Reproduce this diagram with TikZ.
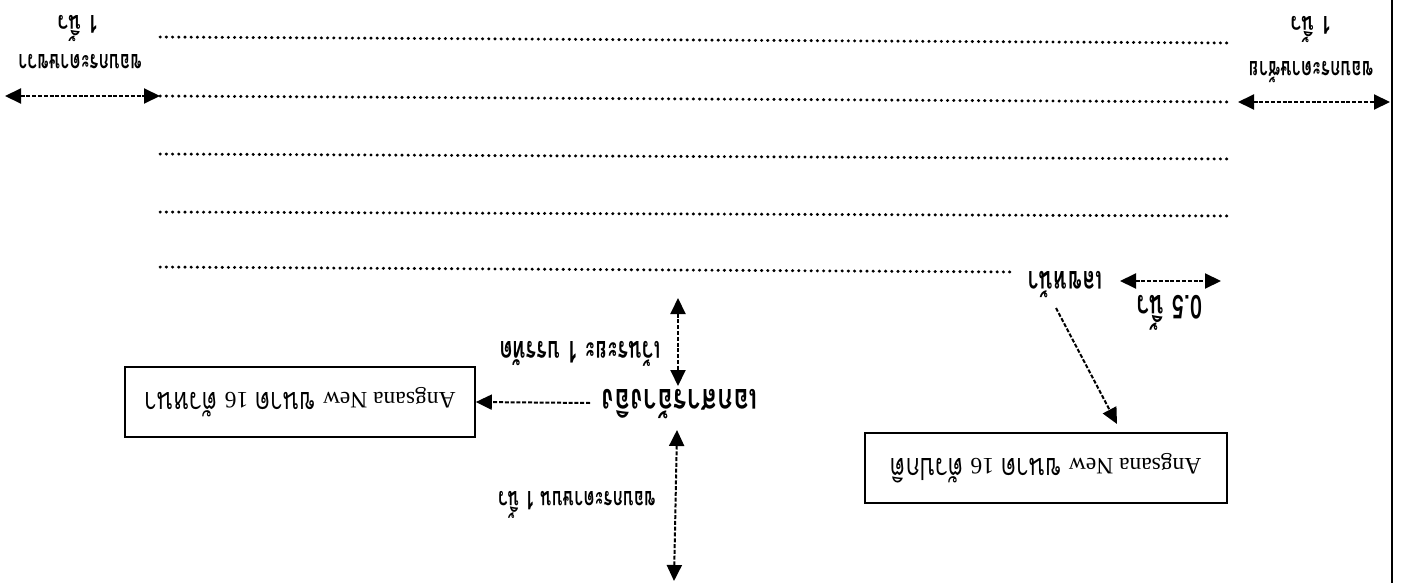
\documentclass[tikz,border=0pt]{standalone}
\usepackage{fontspec}
\usepackage{graphicx}
\usetikzlibrary{arrows.meta}
\newfontfamily\thaifont[Script=Thai]{Loma}
\newfontfamily\latinfont{Liberation Serif}
\newcommand{\tall}[2][1.5]{\scalebox{1}[#1]{#2}}
\newcommand{\fsz}[1]{\fontsize{#1}{#1}\selectfont}
\tikzset{
  x=1pt,y=-1pt,
  lbl/.style={rotate=180,inner sep=0pt,font=\thaifont\bfseries\fsz{17}},
  boxed/.style={draw,line width=1.6pt,rotate=180,minimum width=350pt,minimum height=70pt,inner sep=0pt,font=\fsz{23.5}},
  dotline/.style={line width=3pt,line cap=round,dash pattern=on 0.4pt off 5.8pt},
  dim/.style={line width=2pt,dash pattern=on 4pt off 1.8pt,{Triangle[length=16pt,width=15pt]}-{Triangle[length=16pt,width=15pt]}},
  pointer/.style={line width=2pt,dash pattern=on 4pt off 1.8pt,-{Triangle[length=16pt,width=15pt]}}
}
\begin{document}
\begin{tikzpicture}
\useasboundingbox (0,0) rectangle (1403,583);
% dotted text lines
\coordinate (a1) at (160,37);   \coordinate (b1) at (1232,43);
\coordinate (a2) at (160,96);   \coordinate (b2) at (1232,102);
\coordinate (a3) at (160,154);  \coordinate (b3) at (1232,159);
\coordinate (a4) at (160,212);  \coordinate (b4) at (1232,216);
\coordinate (a5) at (160,267);  \coordinate (b5) at (1015,272);
\draw[dotline] (a1)--(b1);
\draw[dotline] (a2)--(b2);
\draw[dotline] (a3)--(b3);
\draw[dotline] (a4)--(b4);
\draw[dotline] (a5)--(b5);
% page edge
\coordinate (e1) at (1392,0); \coordinate (e2) at (1392,583);
\draw[line width=1.8pt] (e1)--(e2);
% margin labels
\node[lbl,font=\thaifont\bfseries\fsz{19}] (l1) at (78,29) {\tall[1.3]{1 นิ้ว}};
\node[lbl] (l2) at (80,62) {\tall{ขอบกระดาษขวา}};
\node[lbl,font=\thaifont\bfseries\fsz{19}] (r1) at (1311,30) {\tall[1.3]{1 นิ้ว}};
\node[lbl] (r2) at (1311,72) {\tall{ขอบกระดาษซ้าย}};
\node[lbl,font=\thaifont\bfseries\fsz{21}] (pg) at (1065,285) {\tall{เลขหน้า}};
\node[lbl,font=\thaifont\bfseries\fsz{22}] (half) at (1170,313) {\tall{0.5 นิ้ว}};
\node[lbl,font=\thaifont\bfseries\fsz{20}] (gap) at (580,354) {\tall{เว้นระยะ 1 บรรทัด}};
\node[lbl,font=\thaifont\bfseries\fsz{26}] (title) at (680,404) {\tall[1.35]{เอกสารอ้างอิง}};
\node[lbl] (top) at (577,505) {\tall{ขอบกระดาษบน 1 นิ้ว}};
% boxes
\node[boxed] (boxL) at (300,402) {{\latinfont Angsana New} {\thaifont\tall[1.3]{ขนาด}} {\latinfont 16} {\thaifont\tall[1.3]{ตัวหนา}}\hspace{8pt}};
\node[boxed,minimum width=362pt] (boxR) at (1046,468) {{\latinfont Angsana New} {\thaifont\tall[1.3]{ขนาด}} {\latinfont 16} {\thaifont\tall[1.3]{ตัวปกติ}}};
% dimension arrows
\coordinate (ml1) at (5,96);    \coordinate (ml2) at (160,96);
\coordinate (mr1) at (1238,102); \coordinate (mr2) at (1390,102);
\coordinate (h1) at (1120,281); \coordinate (h2) at (1221,281);
\coordinate (v1) at (678,298);  \coordinate (v2) at (678,386);
\coordinate (w1) at (677,430);  \coordinate (w2) at (674,581);
\coordinate (t1) at (590,403);
\coordinate (p1) at (1056,308); \coordinate (p2) at (1117,424);
\draw[dim] (ml1)--(ml2);
\draw[dim] (mr1)--(mr2);
\draw[dim] (h1)--(h2);
\draw[dim] (v1)--(v2);
\draw[dim] (w1)--(w2);
\draw[pointer] (t1)--(boxL.west);
\draw[pointer] (p1)--(p2);
\end{tikzpicture}
\end{document}
